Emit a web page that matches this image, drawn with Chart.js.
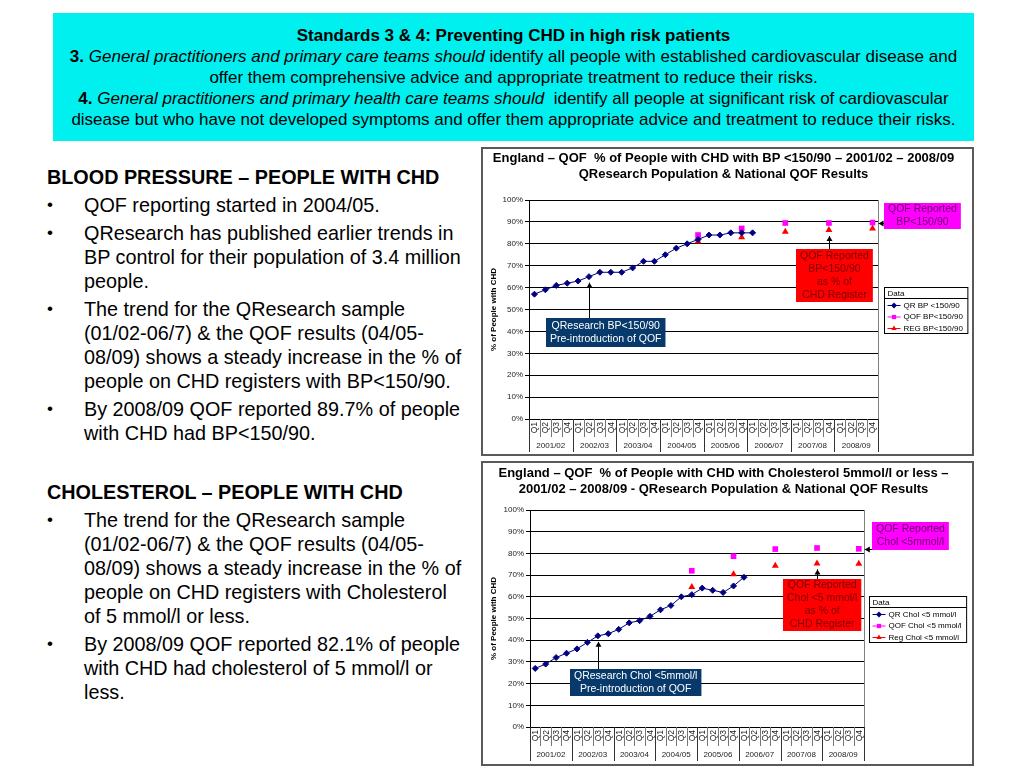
<!DOCTYPE html>
<html>
<head>
<meta charset="utf-8">
<script src="https://cdn.jsdelivr.net/npm/chart.js@4.4.1/dist/chart.umd.min.js"></script>
<style>
  html,body{margin:0;padding:0;background:#fff;}
  body{width:1024px;height:768px;position:relative;overflow:hidden;font-family:"Liberation Sans",Arial,sans-serif;color:#000;}
  #hdr{position:absolute;left:53px;top:13px;width:921px;height:128px;background:#00f0f0;box-sizing:border-box;padding-top:12px;text-align:center;font-size:17px;line-height:21px;}
  #hdr div{white-space:nowrap;}
  .col{position:absolute;left:47px;width:425px;font-size:19.8px;line-height:24px;}
  .col .h{font-weight:bold;white-space:nowrap;}
  .col .b{position:relative;padding-left:37px;margin-top:4px;white-space:nowrap;}
  .col .b span.dot{position:absolute;left:0;top:0;font-size:17px;}
  .cbox{position:absolute;left:481px;width:493px;box-sizing:border-box;border:2px solid #5a5a5a;pointer-events:none;}
  canvas{position:absolute;left:481px;}
</style>
</head>
<body>
<div id="hdr">
  <div><b>Standards 3 &amp; 4: Preventing CHD in high risk patients</b></div>
  <div><b>3.</b> <i>General practitioners and primary care teams should</i> identify all people with established cardiovascular disease and</div>
  <div>offer them comprehensive advice and appropriate treatment to reduce their risks.</div>
  <div><b>4.</b> <i>General practitioners and primary health care teams should</i>&nbsp; identify all people at significant risk of cardiovascular</div>
  <div>disease but who have not developed symptoms and offer them appropriate advice and treatment to reduce their risks.</div>
</div>

<div class="col" style="top:165px">
  <div class="h">BLOOD PRESSURE – PEOPLE WITH CHD</div>
  <div class="b"><span class="dot">•</span>QOF reporting started in 2004/05.</div>
  <div class="b"><span class="dot">•</span>QResearch has published earlier trends in<br>BP control for their population of 3.4 million<br>people.</div>
  <div class="b"><span class="dot">•</span>The trend for the QResearch sample<br>(01/02-06/7) &amp; the QOF results (04/05-<br>08/09) shows a steady increase in the % of<br>people on CHD registers with BP&lt;150/90.</div>
  <div class="b"><span class="dot">•</span>By 2008/09 QOF reported 89.7% of people<br>with CHD had BP&lt;150/90.</div>
</div>

<div class="col" style="top:480px">
  <div class="h">CHOLESTEROL – PEOPLE WITH CHD</div>
  <div class="b"><span class="dot">•</span>The trend for the QResearch sample<br>(01/02-06/7) &amp; the QOF results (04/05-<br>08/09) shows a steady increase in the % of<br>people on CHD registers with Cholesterol<br>of 5 mmol/l or less.</div>
  <div class="b"><span class="dot">•</span>By 2008/09 QOF reported 82.1% of people<br>with CHD had cholesterol of 5 mmol/l or<br>less.</div>
</div>

<canvas id="c1" width="493" height="309" style="top:147px"></canvas>
<canvas id="c2" width="493" height="305" style="top:461px"></canvas>
<div class="cbox" style="top:147px;height:309px"></div>
<div class="cbox" style="top:461px;height:305px"></div>

<script>
// ---------- DATA ----------
const quarterLabels = ['Q1','Q2','Q3','Q4','Q1','Q2','Q3','Q4','Q1','Q2','Q3','Q4','Q1','Q2','Q3','Q4',
                       'Q1','Q2','Q3','Q4','Q1','Q2','Q3','Q4','Q1','Q2','Q3','Q4','Q1','Q2','Q3','Q4'];
const yearLabels = ['2001/02','2002/03','2003/04','2004/05','2005/06','2006/07','2007/08','2008/09'];
const yTickLabels = ['0%','10%','20%','30%','40%','50%','60%','70%','80%','90%','100%'];

const bpQR  = [57,59,61,62, 63,65,67,67, 67,69,72,72, 75,78,80,82, 84,84,85,85, 85,null,null,null, null,null,null,null, null,null,null,null];
const bpQOF = [null,null,null,null, null,null,null,null, null,null,null,null, null,null,null,84, null,null,null,87, null,null,null,89.5, null,null,null,89.5, null,null,null,89.7];
const bpREG = [null,null,null,null, null,null,null,null, null,null,null,null, null,null,null,81, null,null,null,83, null,null,null,85.5, null,null,null,86.3, null,null,null,87];

const cholQR  = [27,29,32,34, 36,39,42,43, 45,48,49,51, 54,56,60,61, 64,63,62,65, 69,null,null,null, null,null,null,null, null,null,null,null];
const cholQOF = [null,null,null,null, null,null,null,null, null,null,null,null, null,null,null,72, null,null,null,78.7, null,null,null,82, null,null,null,82.5, null,null,null,82.1];
const cholREG = [null,null,null,null, null,null,null,null, null,null,null,null, null,null,null,64.5, null,null,null,70.4, null,null,null,74.3, null,null,null,75.4, null,null,null,75.2];

const bpNames   = ['QR BP <150/90','QOF BP<150/90','REG BP<150/90'];
const cholNames = ['QR Chol <5 mmol/l','QOF Chol <5 mmol/l','Reg Chol <5 mmol/l'];

const bpTitle   = ['England – QOF  % of People with CHD with BP <150/90 – 2001/02 – 2008/09','QResearch Population & National QOF Results'];
const cholTitle = ['England – QOF  % of People with CHD with Cholesterol 5mmol/l or less –','2001/02 – 2008/09 - QResearch Population & National QOF Results'];

// ---------- STYLE ----------
const FONT = '"Liberation Sans", Arial, sans-serif';
const NAVY = '#000080', MAG = '#ff00ff', RED = '#ff0000';

function datasets(names, qr, qof, reg){
  return [
    {label:names[0], data:qr, borderColor:NAVY, backgroundColor:NAVY, borderWidth:1, pointStyle:'rectRot', pointRadius:3, pointBorderWidth:1, spanGaps:false},
    {label:names[1], data:qof, borderColor:MAG, backgroundColor:MAG, borderWidth:1, showLine:false, pointStyle:'rect', pointRadius:4, pointBorderWidth:0},
    {label:names[2], data:reg, borderColor:RED, backgroundColor:RED, borderWidth:1, showLine:false, pointStyle:'triangle', pointRadius:4, pointBorderWidth:0}
  ];
}

const extras = {
  id:'extras',
  afterDraw(chart, args, o){
    const {ctx, chartArea:ca} = chart;
    const xs = chart.scales.x, ys = chart.scales.y;
    const labels = chart.data.labels, n = labels.length;
    const step = xs.getPixelForValue(1) - xs.getPixelForValue(0);
    const perYear = n / o.years.length;
    ctx.save();
    // title
    ctx.fillStyle = '#000'; ctx.font = 'bold 13px ' + FONT;
    ctx.textAlign = 'center'; ctx.textBaseline = 'middle';
    o.title.forEach((t, i) => ctx.fillText(t, chart.width/2 - 4, o.titleY + i * 16));
    // right border of plot
    ctx.strokeStyle = '#808080'; ctx.lineWidth = 1;
    const rx = Math.round(ca.right) + 0.5;
    ctx.beginPath(); ctx.moveTo(rx, ca.top); ctx.lineTo(rx, ca.bottom); ctx.stroke();
    // category separators
    for (let i = 0; i <= n; i++){
      const base = i < n ? xs.getPixelForValue(i) - step/2 : xs.getPixelForValue(n-1) + step/2;
      const px = Math.round(base) + 0.5;
      const isYear = i % perYear === 0;
      ctx.strokeStyle = isYear ? '#333' : '#777';
      ctx.beginPath(); ctx.moveTo(px, ca.bottom); ctx.lineTo(px, ca.bottom + (isYear ? o.yearEnd : o.qRow)); ctx.stroke();
    }
    // quarter labels (rotated)
    ctx.fillStyle = '#222'; ctx.font = '8.5px ' + FONT;
    ctx.textAlign = 'right'; ctx.textBaseline = 'middle';
    for (let i = 0; i < n; i++){
      ctx.save(); ctx.translate(xs.getPixelForValue(i) + 0.5, ca.bottom + 3); ctx.rotate(-Math.PI/2);
      ctx.fillText(labels[i], 0, 0); ctx.restore();
    }
    // year labels
    ctx.textAlign = 'center'; ctx.font = '8px ' + FONT;
    o.years.forEach((yl, k) => {
      const cx = (xs.getPixelForValue(k*perYear) + xs.getPixelForValue(k*perYear + perYear - 1)) / 2;
      ctx.fillText(yl, cx, ca.bottom + o.yearMid);
    });

    // legend
    ctx.font = '8px ' + FONT;
    const ds = chart.data.datasets;
    const tw = Math.max(...ds.map(d => ctx.measureText(d.label).width));
    const lw = 18 + tw + 6, lh = 46;
    const lx = Math.round(ca.right + o.legendGap) + 0.5;
    const ly = Math.round((ca.top + ca.bottom)/2 - lh/2) + 0.5;
    ctx.fillStyle = '#fff'; ctx.fillRect(lx, ly, lw, lh);
    ctx.strokeStyle = '#000'; ctx.lineWidth = 1; ctx.strokeRect(lx, ly, lw, lh);
    ctx.beginPath(); ctx.moveTo(lx, ly + 11); ctx.lineTo(lx + lw, ly + 11); ctx.stroke();
    ctx.fillStyle = '#000'; ctx.textAlign = 'left'; ctx.textBaseline = 'middle';
    ctx.fillText('Data', lx + 3, ly + 6);
    ds.forEach((d, i) => {
      const yy = ly + 18 + i * 11.5;
      ctx.strokeStyle = d.borderColor; ctx.lineWidth = 1;
      ctx.beginPath(); ctx.moveTo(lx + 3, yy); ctx.lineTo(lx + 16, yy); ctx.stroke();
      ctx.fillStyle = d.backgroundColor; ctx.strokeStyle = d.borderColor;
      Chart.helpers.drawPoint(ctx, {pointStyle: d.pointStyle, radius: 3, rotation: 0, borderWidth: 0}, lx + 9.5, yy);
      ctx.fillStyle = '#000';
      ctx.fillText(d.label, lx + 19, yy);
    });

    // callouts
    ctx.font = '10.5px ' + FONT;
    o.notes.forEach(nt => {
      const w = Math.max(...nt.lines.map(t => ctx.measureText(t).width)) + 8;
      const h = nt.lines.length * 13 + nt.padY * 2;
      let bx, by;
      if (nt.side === 'right'){
        bx = ca.right + o.noteGap;
        by = ys.getPixelForValue(nt.at[1]) - h/2;
      } else {
        bx = xs.getPixelForValue(nt.at[0]) - w/2;
        by = ys.getPixelForValue(nt.at[1]) - h/2;
      }
      bx = Math.round(bx); by = Math.round(by);
      const tx = xs.getPixelForValue(nt.target[0]);
      const ty = ys.getPixelForValue(nt.target[1]);
      ctx.strokeStyle = '#000'; ctx.fillStyle = '#000'; ctx.lineWidth = 1;
      if (nt.side === 'right'){
        const tipX = tx + 6, ay = Math.round(ty) + 0.5;
        ctx.beginPath(); ctx.moveTo(bx, ay); ctx.lineTo(tipX, ay); ctx.stroke();
        ctx.beginPath(); ctx.moveTo(tipX, ay); ctx.lineTo(tipX + 5, ay - 3); ctx.lineTo(tipX + 5, ay + 3); ctx.closePath(); ctx.fill();
      } else {
        const tipY = ty + 6, ax = Math.round(tx) + 0.5;
        ctx.beginPath(); ctx.moveTo(ax, by); ctx.lineTo(ax, tipY); ctx.stroke();
        ctx.beginPath(); ctx.moveTo(ax, tipY); ctx.lineTo(ax - 3, tipY + 5); ctx.lineTo(ax + 3, tipY + 5); ctx.closePath(); ctx.fill();
      }
      ctx.fillStyle = nt.bg; ctx.fillRect(bx, by, w, h);
      ctx.fillStyle = nt.fg; ctx.textAlign = 'center'; ctx.textBaseline = 'middle';
      nt.lines.forEach((t, i) => ctx.fillText(t, bx + w/2, by + nt.padY + 6.5 + i * 13));
    });
    ctx.restore();
  }
};

function makeChart(id, title, dsets, cfg){
  return new Chart(document.getElementById(id), {
    type:'line',
    data:{labels: quarterLabels, datasets: dsets},
    plugins:[extras],
    options:{
      responsive:false, animation:false, devicePixelRatio:1,
      layout:{padding:{left:0, right:cfg.padRight, top:cfg.plotTop, bottom:0}},
      plugins:{
        legend:{display:false},
        tooltip:{enabled:false},
        title:{display:false},
        extras:{title: title, titleY: cfg.titleY, years: yearLabels, qRow: cfg.qRow, yearEnd: cfg.yearEnd, yearMid: cfg.yearMid, legendGap: cfg.legendGap, noteGap: cfg.noteGap, notes: cfg.notes}
      },
      scales:{
        x:{type:'category', offset:true, grid:{display:false}, border:{display:true, color:'#000'}, ticks:{display:false},
           afterFit: s => { s.height = cfg.xH; }},
        y:{min:0, max:100,
           ticks:{stepSize:10, color:'#222', padding:2, font:{family:FONT, size:8}, callback:(v, i) => yTickLabels[i]},
           grid:{color:'#000', lineWidth:1, tickLength:4, drawTicks:true},
           border:{display:true, color:'#000'},
           title:{display:true, text:'% of People with CHD', color:'#000', font:{family:FONT, size:8, weight:'bold'}, padding:{top:8, bottom:0}},
           afterFit: s => { s.width = cfg.yW; }}
      }
    }
  });
}

makeChart('c1', bpTitle, datasets(bpNames, bpQR, bpQOF, bpREG), {
  padRight:96, plotTop:53, titleY:11, xH:37, yW:48, qRow:18, yearEnd:33, yearMid:27, legendGap:6, noteGap:6,
  notes:[
    {lines:['QResearch BP<150/90','Pre-introduction of QOF'], bg:'#073a6b', fg:'#fff', padY:1.5, at:[6.55, 39.7], target:[5, bpQR[5]]},
    {lines:['QOF Reported','BP<150/90'], bg:MAG, fg:'#6b006b', padY:0, side:'right', at:[null, 92.7], target:[31, bpQOF[31]]},
    {lines:['QOF Reported','BP<150/90','as % of','CHD Register'], bg:RED, fg:'#7a0000', padY:0.5, at:[27.5, 65.3], target:[27, bpREG[27]]}
  ]
});

makeChart('c2', cholTitle, datasets(cholNames, cholQR, cholQOF, cholREG), {
  padRight:110, plotTop:49, titleY:12, xH:39, yW:49, qRow:19, yearEnd:34, yearMid:28, legendGap:5, noteGap:8,
  notes:[
    {lines:['QResearch Chol <5mmol/l','Pre-introduction of QOF'], bg:'#073a6b', fg:'#fff', padY:0.5, at:[9.65, 20.5], target:[6, cholQR[6]]},
    {lines:['QOF Reported','Chol <5mmol/l'], bg:MAG, fg:'#6b006b', padY:1, side:'right', at:[null, 88], target:[31, cholQOF[31]]},
    {lines:['QOF Reported','Chol <5 mmol/l','as % of','CHD Register'], bg:RED, fg:'#7a0000', padY:0, at:[27.5, 56.2], target:[27, cholREG[27]]}
  ]
});
</script>
</body>
</html>
